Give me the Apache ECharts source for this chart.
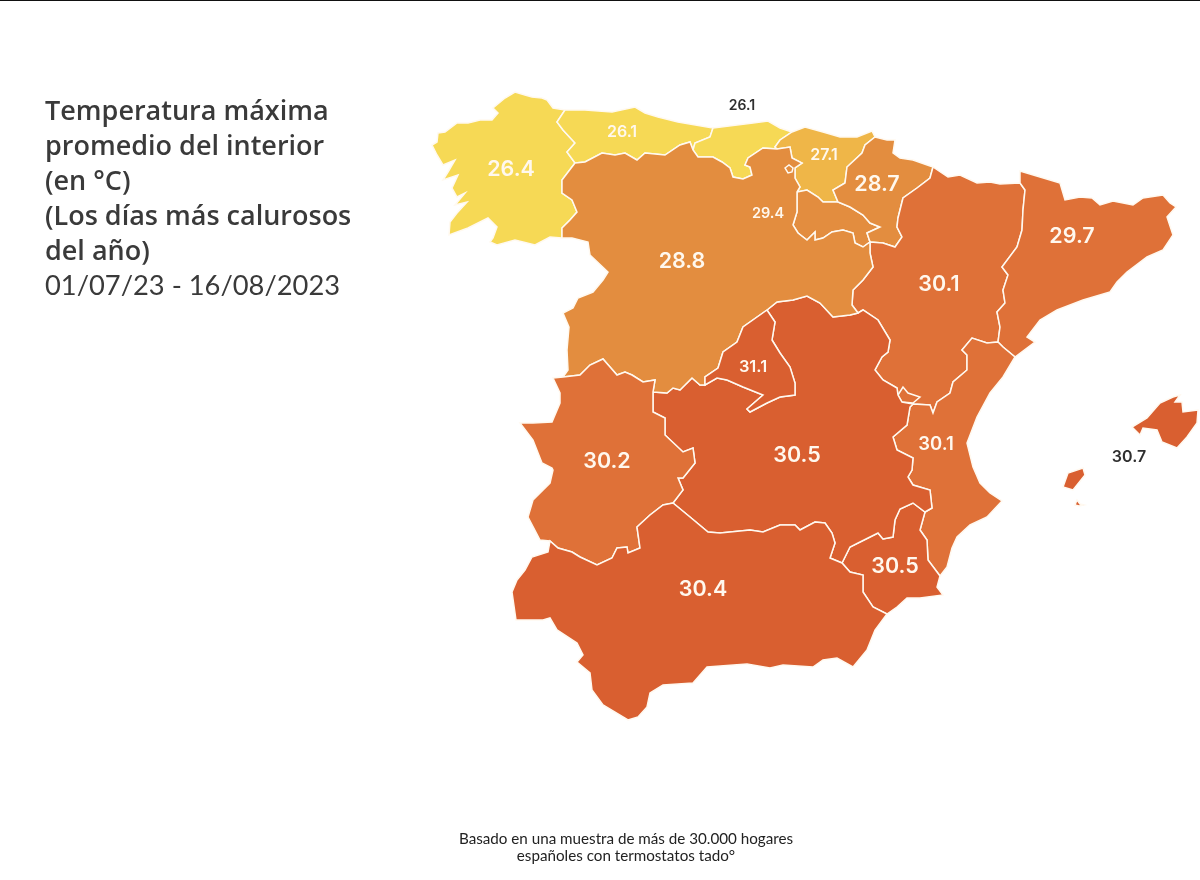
<!DOCTYPE html>
<html><head><meta charset="utf-8">
<style>html,body{margin:0;padding:0;background:#fff}#c{width:1200px;height:880px}</style>
<script src="https://cdn.jsdelivr.net/npm/echarts@6/dist/echarts.min.js"></script>
</head><body><div id="c"></div>
<script>
// ---- values ----
const regions = ['Galicia','Asturias','Cantabria','País Vasco','La Rioja','Navarra','Aragón','Cataluña','C. Valenciana','Murcia','Castilla-La Mancha','Castilla y León','Madrid','Extremadura','Andalucía','Baleares'];
const values  = [26.4,26.1,26.1,27.1,29.4,28.7,30.1,29.7,30.1,30.5,30.5,28.8,31.1,30.2,30.4,30.7];

// ---- text ----
const titleLines = ['Temperatura máxima','promedio del interior','(en °C)','(Los días más calurosos','del año)'];
const periodLine = '01/07/23 - 16/08/2023';
const footLines = ['Basado en una muestra de más de 30.000 hogares','españoles con termostatos tado°'];

// ---- geography: shared borders in map units ----
const coastGal=[[565,110],[553,108],[547,100],[542,98],[532,97],[525,95],[515,92],[505,98],[493,108],[498,113],[492,120],[480,120],[468,123],[457,123],[445,132],[438,133],[437,142],[432,145],[437,155],[443,165],[455,160],[448,172],[443,180],[458,175],[452,188],[457,197],[465,193],[455,205],[467,202],[457,213],[450,222],[449,235],[468,228],[488,218],[497,227],[493,238],[490,242],[497,245],[515,240],[535,245],[550,237],[562,238]];
const bGalCyl=[[562,238],[562,228],[570,220],[577,212],[572,200],[562,193],[562,180],[575,163]];
const bGalAst=[[575,163],[567,152],[575,143],[563,130],[557,122],[565,110]];
const coastAst=[[565,110],[585,110],[612,112],[635,107],[645,113],[658,117],[678,122],[713,128]];
const bAstCan=[[713,128],[710,137],[695,143],[693,150],[698,157]];
const bAstCyl=[[575,163],[585,162],[602,153],[615,155],[625,153],[637,160],[645,153],[665,155],[680,145],[690,142],[693,150],[698,157]];
const coastCan=[[713,128],[737,125],[753,123],[768,121],[780,128],[792,132]];
const bCanEus=[[792,132],[780,140],[775,147],[777,149]];
const bCanCyl=[[698,157],[713,157],[722,162],[730,168],[733,177],[743,179],[752,175],[750,167],[745,165],[748,158],[763,148],[777,149]];
const coastEus=[[792,132],[805,127],[823,132],[840,137],[857,137],[872,131],[875,137]];
const bEusNav=[[875,137],[865,145],[862,153],[847,167],[845,183],[833,190],[838,202]];
const bEusRio=[[838,202],[823,202],[818,197],[807,190],[797,192]];
const bEusCyl=[[797,192],[800,187],[795,178],[795,168],[802,163],[792,158],[790,147],[777,149]];
const bRioNav=[[838,202],[850,207],[863,215],[870,223],[880,227],[867,233],[870,242]];
const bRioCyl=[[870,242],[863,247],[855,243],[853,233],[843,230],[832,232],[823,238],[815,240],[815,232],[807,240],[798,233],[793,225],[797,212],[797,192]];
const coastNav=[[875,137],[887,140],[895,140],[893,153],[900,158],[913,160],[933,167]];
const bNavAra=[[933,167],[930,178],[917,188],[903,198],[898,218],[897,227],[902,237],[895,247],[883,243],[870,242]];
const topAra=[[933,167],[948,177],[960,175],[977,183],[990,182],[1000,184],[1020,183]];
const bAraCat=[[1020,183],[1025,190],[1023,210],[1022,230],[1017,247],[1002,267],[1008,275],[1003,290],[1005,303],[997,312],[1000,327],[998,342]];
const bAraVal=[[998,342],[987,343],[972,338],[962,350],[967,355],[967,370],[953,382],[950,393],[937,402],[933,413],[930,405],[913,404]];
const bAraClm=[[913,404],[902,402],[898,395],[897,388],[883,380],[875,370],[882,357],[888,352],[890,340],[878,320],[863,310],[858,313]];
const bAraCyl=[[858,313],[852,305],[853,290],[863,280],[873,267],[870,253],[870,242]];
const coastCat=[[1020,183],[1020,171],[1040,177],[1060,183],[1065,200],[1080,197],[1092,198],[1100,205],[1113,201],[1133,205],[1143,198],[1163,195],[1170,203],[1176,207],[1167,217],[1173,235],[1163,250],[1147,257],[1127,272],[1117,282],[1110,292],[1083,300],[1057,310],[1040,320],[1027,337],[1035,342],[1015,357]];
const bCatVal=[[1015,357],[1003,347],[998,342]];
const coastVal=[[1015,357],[1003,377],[990,393],[977,417],[967,443],[973,467],[980,483],[990,493],[1002,501],[987,517],[970,525],[957,537],[952,548],[947,567],[940,576]];
const bValMur=[[940,576],[928,560],[927,540],[920,530],[925,512]];
const bValClm=[[925,512],[932,508],[930,490],[913,485],[908,477],[912,470],[913,458],[897,450],[893,437],[907,425],[910,407],[913,404]];
const ademuz=[[898,395],[903,387],[908,393],[920,397],[913,403],[902,402]];
const bMurClm=[[925,512],[913,503],[900,509],[895,520],[893,537],[883,539],[878,533],[860,542],[850,547],[842,563]];
const bMurAnd=[[842,563],[850,572],[863,575],[863,592],[873,607],[887,614]];
const coastMur=[[887,614],[897,607],[907,598],[920,598],[943,595],[937,587],[940,576]];
const bClmTop=[[767,310],[777,302],[793,300],[807,296],[820,303],[833,317],[850,315],[858,313]];
const bClmAnd=[[842,563],[830,558],[835,543],[832,533],[825,523],[815,522],[800,530],[795,525],[780,525],[763,532],[750,530],[720,533],[708,532],[690,517],[673,503]];
const bClmExt=[[673,503],[683,490],[678,478],[683,478],[695,463],[693,448],[683,452],[665,435],[665,418],[653,412],[653,392]];
const bClmCyl=[[653,392],[667,393],[673,388],[680,390],[692,378],[700,385],[705,385]];
const bClmMad=[[705,385],[717,378],[727,380],[743,387],[763,395],[747,409],[750,412],[767,403],[780,397],[795,395],[795,383],[790,367],[780,353],[772,340],[775,322],[767,310]];
const bMadCyl=[[767,310],[743,327],[737,342],[723,352],[718,368],[705,377],[705,385]];
const bCylExt=[[653,392],[655,380],[643,382],[632,375],[625,372],[617,375],[610,367],[603,359],[590,365],[580,375],[563,377]];
const portCyl=[[563,377],[568,370],[567,350],[569,327],[563,313],[573,308],[578,298],[593,292],[603,280],[608,272],[590,255],[588,242],[572,238],[562,238]];
const coastExt=[[550,541],[540,540],[528,517],[533,500],[550,483],[553,470],[552,468],[542,463],[533,440],[520,423],[533,423],[552,422],[560,403],[560,393],[553,378],[563,377]];
const bExtAnd=[[550,541],[558,548],[572,552],[580,557],[597,565],[612,558],[617,548],[627,547],[628,553],[640,548],[637,527],[650,515],[663,505],[673,503]];
const coastAnd=[[550,541],[548,552],[532,557],[525,570],[517,580],[512,592],[516,620],[543,620],[550,618],[557,630],[577,643],[583,655],[577,662],[590,673],[592,690],[603,705],[628,720],[638,717],[647,707],[650,693],[663,685],[693,683],[707,667],[747,664],[770,668],[783,665],[813,667],[823,660],[837,658],[853,667],[867,650],[875,630],[887,614]];
const trevino=[[785,168],[789,165],[793,168],[792,172],[788,173]];
const mallorca=[[1132,427],[1147,418],[1160,403],[1173,397],[1180,395],[1175,402],[1182,402],[1183,412],[1198,410],[1197,423],[1187,437],[1177,448],[1162,442],[1157,430],[1143,428],[1140,435]];
const ibiza=[[1063,487],[1068,473],[1083,468],[1085,475],[1073,490]];
const formentera=[[1075,505],[1077,500],[1080,504],[1084,505],[1079,506]];

const r=a=>a.slice().reverse();
const ring=(...parts)=>parts.flat();
const shapes={
 'Galicia':[ring(coastGal,bGalCyl,bGalAst)],
 'Asturias':[ring(coastAst,bAstCan,r(bAstCyl),bGalAst)],
 'Cantabria':[ring(coastCan,bCanEus,r(bCanCyl),r(bAstCan))],
 'País Vasco':[ring(coastEus,bEusNav,bEusRio,bEusCyl,r(bCanEus))],
 'La Rioja':[ring(r(bEusRio),bRioNav,bRioCyl)],
 'Navarra':[ring(coastNav,bNavAra,r(bRioNav),r(bEusNav))],
 'Aragón':[ring(topAra,bAraCat,bAraVal,bAraClm,bAraCyl,r(bNavAra))],
 'Cataluña':[ring(coastCat,bCatVal,r(bAraCat))],
 'C. Valenciana':[ring(coastVal,bValMur,bValClm,r(bAraVal),r(bCatVal)),ademuz],
 'Murcia':[ring(bMurClm,bMurAnd,coastMur,bValMur)],
 'Castilla-La Mancha':[ring(bClmTop,r(bAraClm),r(bValClm),bMurClm,bClmAnd,bClmExt,bClmCyl,bClmMad)],
 'Castilla y León':[ring(bAstCyl,bCanCyl,r(bEusCyl),r(bRioCyl),r(bAraCyl),r(bClmTop),bMadCyl,r(bClmCyl),bCylExt,portCyl,bGalCyl),trevino],
 'Madrid':[ring(bMadCyl,bClmMad)],
 'Extremadura':[ring(r(bCylExt),r(bClmExt),r(bExtAnd),coastExt)],
 'Andalucía':[ring(bExtAnd,r(bClmAnd),bMurAnd,r(coastAnd))],
 'Baleares':[mallorca,ibiza,formentera]
};
const anchors={'Galicia':[511,170],'Asturias':[622,132],'Cantabria':[742,106],'País Vasco':[824,155],'La Rioja':[768,214],'Navarra':[877,185],'Aragón':[939,285],'Cataluña':[1072,237],'C. Valenciana':[936,444],'Murcia':[895,567],'Castilla-La Mancha':[797,456],'Castilla y León':[682,262],'Madrid':[753,367],'Extremadura':[607,462],'Andalucía':[703,590],'Baleares':[1129,457]};

const flip=p=>[p[0],-p[1]];
const geo={type:'FeatureCollection',features:regions.map(n=>({type:'Feature',
  properties:{name:n,cp:flip(anchors[n])},
  geometry:{type:'MultiPolygon',coordinates:shapes[n].map(s=>[s.map(flip).concat([flip(s[0])])])}}))};
echarts.registerMap('spain',geo);

// ---- label styling ----
const smallLabels={'Asturias':16,'País Vasco':16,'La Rioja':14.5,'Madrid':16.5,'C. Valenciana':18.5};
const darkLabels={'Cantabria':14,'Baleares':16};
const chart=echarts.init(document.getElementById('c'),null,{renderer:'canvas'});
chart.setOption({
 animation:false,
 backgroundColor:'#fff',
 title:[
  {text:titleLines.join('\n'),left:45,top:94.5,padding:0,textStyle:{fontFamily:'Open Sans',fontWeight:600,fontSize:27,lineHeight:35,color:'#3a3a3a'}},
  {text:periodLine,left:45,top:268.5,padding:0,textStyle:{fontFamily:'Lato',fontWeight:400,fontSize:27.3,lineHeight:35,color:'#3a3a3a'}},
  {text:footLines.join('\n'),left:626,textAlign:'center',top:830.5,padding:0,textStyle:{fontFamily:'Lato',fontWeight:400,fontSize:15.2,lineHeight:17,color:'#222',align:'center'}}
 ],
 graphic:[{type:'rect',shape:{x:0,y:0,width:1200,height:1},style:{fill:'#111'}}],
 visualMap:{show:false,type:'piecewise',seriesIndex:0,pieces:[
  {min:26,max:26.9,color:'#f6d955'},
  {min:27,max:27.9,color:'#efb648'},
  {min:28,max:29.5,color:'#e38d3f'},
  {min:29.6,max:30.3,color:'#df7138'},
  {min:30.35,max:32,color:'#d95f30'}
 ]},
 series:[{
  type:'map',map:'spain',roam:false,silent:true,selectedMode:false,
  aspectScale:1,left:0,top:0,width:1200,height:880,
  boundingCoords:[[0,0],[1200,-880]],
  itemStyle:{borderColor:'#fff9f0',borderWidth:1.5},
  label:{show:true,color:'#fff8ee',fontFamily:'Inter',fontWeight:600,fontSize:21.5,formatter:p=>p.value.toFixed(1)},
  data:regions.map((n,i)=>{
    const o={name:n,value:values[i]};
    if(smallLabels[n]) o.label={fontSize:smallLabels[n]};
    if(darkLabels[n]) o.label={fontSize:darkLabels[n],color:'#2f2f2f'};
    return o;
  })
 }]
});
</script></body></html>
